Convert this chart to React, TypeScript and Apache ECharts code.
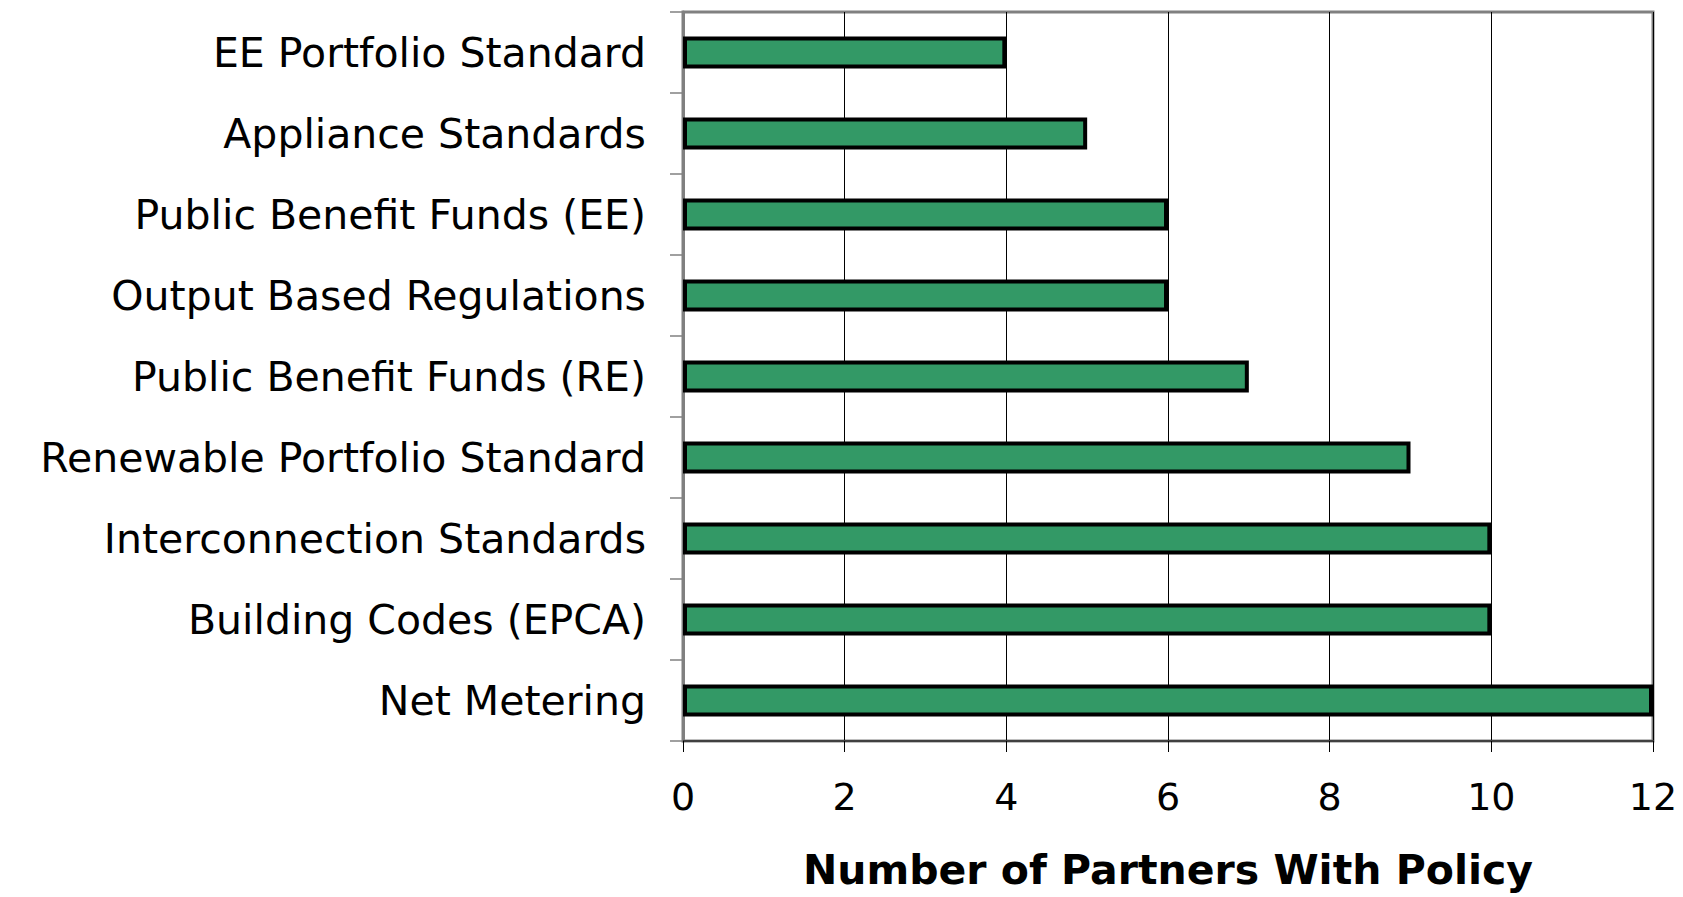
import React, { useEffect, useRef } from "react";
import * as echarts from "echarts";

const categories = [
  "EE Portfolio Standard",
  "Appliance Standards",
  "Public Benefit Funds (EE)",
  "Output Based Regulations",
  "Public Benefit Funds (RE)",
  "Renewable Portfolio Standard",
  "Interconnection Standards",
  "Building Codes (EPCA)",
  "Net Metering",
];
const partnerCounts = [4, 5, 6, 6, 7, 9, 10, 10, 12];
const xTicks = { min: 0, max: 12, interval: 2 };
const axisTitle = "Number of Partners With Policy";

export default function App() {
  const ref = useRef<HTMLDivElement>(null);
  useEffect(() => {
    if (!ref.current) return;
    const chart = echarts.init(ref.current, undefined, { renderer: "svg" });
    const font = "DejaVu Sans";
    chart.setOption({
      animation: false,
      backgroundColor: "#ffffff",
      grid: {
        left: 683,
        right: 30,
        top: 12,
        bottom: 156,
        containLabel: false,
        outerBoundsMode: "none",
        show: true,
        borderColor: "#808080",
        borderWidth: 3,
        backgroundColor: "transparent",
      },
      xAxis: {
        type: "value",
        min: xTicks.min,
        max: xTicks.max,
        interval: xTicks.interval,
        name: axisTitle,
        nameLocation: "middle",
        nameGap: 108,
        nameTextStyle: {
          fontFamily: font,
          fontWeight: "bold",
          fontSize: 41,
          color: "#000",
        },
        axisLine: { show: true, lineStyle: { color: "#404040", width: 2 } },
        axisTick: { show: true, length: 11, lineStyle: { color: "#000", width: 1 } },
        axisLabel: { fontFamily: font, fontSize: 38, color: "#000", margin: 37 },
        splitLine: { show: true, lineStyle: { color: "#000", width: 1 } },
      },
      yAxis: {
        type: "category",
        data: categories,
        inverse: true,
        axisLine: { show: true, lineStyle: { color: "#808080", width: 3 } },
        axisTick: { show: true, length: 13, lineStyle: { color: "#808080", width: 1.5 } },
        axisLabel: { fontFamily: font, fontSize: 41, color: "#000", margin: 37 },
        splitLine: { show: false },
      },
      series: [
        {
          type: "bar",
          data: partnerCounts,
          barWidth: 32,
          itemStyle: { color: "#339966", borderColor: "#000", borderWidth: 4 },
        },
      ],
    });
    return () => chart.dispose();
  }, []);
  return (
    <div
      ref={ref}
      style={{ position: "fixed", left: 0, top: 0, width: 1683, height: 897, background: "#fff" }}
    />
  );
}
